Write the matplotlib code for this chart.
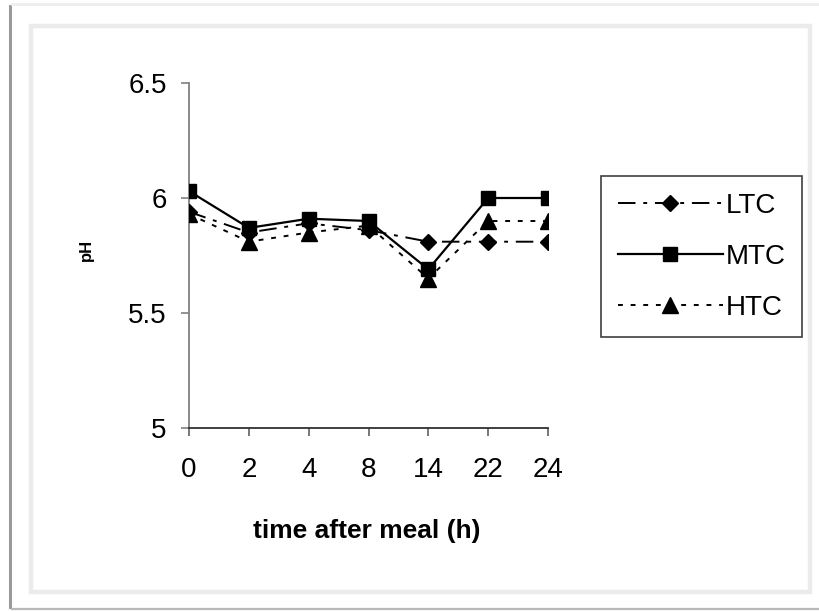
import numpy as np
import matplotlib.pyplot as plt
from matplotlib.patches import Rectangle
from matplotlib.lines import Line2D

plt.rcParams['font.family'] = ['Liberation Sans', 'DejaVu Sans']

# data
hours = ['0', '2', '4', '8', '14', '22', '24']
ltc = [5.94, 5.85, 5.89, 5.86, 5.81, 5.81, 5.81]
mtc = [6.03, 5.87, 5.91, 5.90, 5.69, 6.00, 6.00]
htc = [5.93, 5.81, 5.85, 5.88, 5.65, 5.90, 5.90]
y_ticks = [5, 5.5, 6, 6.5]
y_labels = ['5', '5.5', '6', '6.5']

W, H = 820, 611
fig = plt.figure(figsize=(W / 100, H / 100), dpi=100)

# outer frame with soft shadow and the inner light border
fig.add_artist(Line2D([10 / W, 10 / W], [1 - 6 / H, 1 - 607 / H], color='#9a9a9a', lw=2.2))
fig.add_artist(Line2D([12 / W, 1.0], [1 - 609 / H, 1 - 609 / H], color='#b8b8b8', lw=1.6))
fig.add_artist(Line2D([12 / W, 1.0], [1 - 4 / H, 1 - 4 / H], color='#eeeeee', lw=2))
fig.add_artist(Rectangle((31 / W, 1 - 592 / H), (810 - 31) / W, (592 - 26) / H,
                         fill=False, edgecolor='#ebebeb', lw=3.2, transform=fig.transFigure))

ax = fig.add_axes([189 / W, 1 - 428 / H, (548 - 189) / W, (428 - 83) / H])
x = np.arange(len(hours))

ax.plot(x, ltc, color='black', lw=1.4, dashes=(9, 4, 2, 4), marker='D', markersize=8.5,
        label='LTC', zorder=3)
ax.plot(x, mtc, color='black', lw=1.6, linestyle='-', marker='s', markersize=10,
        label='MTC', zorder=4)
ax.plot(x, htc, color='black', lw=1.4, dashes=(2.5, 4), marker='^', markersize=11,
        label='HTC', zorder=3)

ax.set_xlim(0, len(hours) - 1)
ax.set_ylim(5, 6.5)
ax.set_xticks(x)
ax.set_xticklabels(hours)
ax.set_yticks(y_ticks)
ax.set_yticklabels(y_labels)
ax.spines['top'].set_visible(False)
ax.spines['right'].set_visible(False)
ax.spines['left'].set_color('#808080')
ax.spines['bottom'].set_color('#303030')
ax.spines['left'].set_linewidth(1.3)
ax.spines['bottom'].set_linewidth(1.3)
ax.tick_params(axis='x', direction='out', length=6, width=1.2, color='#606060',
               pad=15, labelsize=20)
ax.tick_params(axis='y', direction='out', length=6, width=1.2, color='#808080',
               pad=10, labelsize=20)
ax.patch.set_alpha(0)

fig.text(367 / W, 1 - 531 / H, 'time after meal (h)', ha='center', va='center',
         fontsize=19, fontweight='bold')
fig.text(86 / W, 1 - 250 / H, 'pH', ha='center', va='center', rotation=90,
         fontsize=12, fontweight='bold')

leg = ax.legend(loc='upper left', bbox_to_anchor=(601 / W, 1 - 176 / H),
                bbox_transform=fig.transFigure, fontsize=20, handlelength=3.8,
                handletextpad=0.08, labelspacing=0.9, borderpad=0.6,
                borderaxespad=0, fancybox=False, framealpha=1, edgecolor='#404040')
leg.get_frame().set_linewidth(1.2)

fig.savefig('out.png', dpi=100, facecolor='white')
